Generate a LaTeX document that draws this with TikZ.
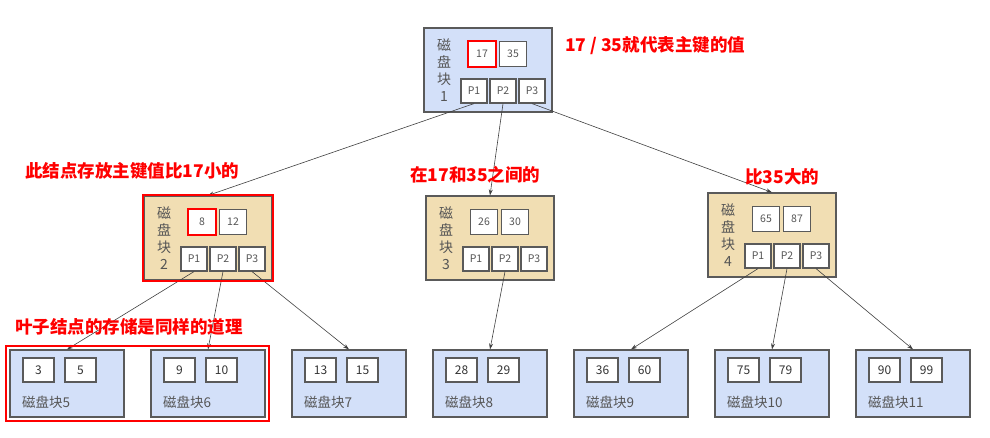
\documentclass[tikz,border=0pt]{standalone}
\usepackage{fontspec}
\setmainfont{Noto Sans CJK SC}
\usetikzlibrary{arrows.meta,fit}
\definecolor{blu}{HTML}{D3E0F9}
\definecolor{tan}{HTML}{F1DEB3}
\definecolor{edge}{HTML}{5A5A5A}
\definecolor{txt}{HTML}{555555}
\definecolor{mark}{HTML}{FF0000}
\tikzset{
  disk/.style={draw=edge,line width=1.2pt,minimum width=128pt,minimum height=84pt,inner sep=0pt},
  leaf/.style={draw=edge,line width=1.2pt,fill=blu,minimum width=114pt,minimum height=67pt,inner sep=0pt},
  key/.style={draw=edge,line width=1.2pt,fill=white,minimum width=27pt,minimum height=25pt,inner sep=0pt,text=txt,font=\fontsize{10.5}{12}\selectfont},
  lkey/.style={key,minimum width=31pt,minimum height=24pt,text=black!80,font=\fontsize{12}{14}\selectfont},
  ptr/.style={key,minimum width=26pt,minimum height=24pt},
  vtext/.style={align=center,text=txt,inner sep=0pt,font=\fontsize{14}{17}\selectfont},
  ltext/.style={anchor=west,text=txt,inner sep=0pt,font=\fontsize{13.5}{15}\selectfont},
  note/.style={anchor=west,text=mark,inner sep=0pt,font=\bfseries\fontsize{17.5}{20}\selectfont},
  hl/.style={draw=mark,line width=2pt,inner sep=0pt},
  link/.style={->,draw=black!75,semithick}
}
\begin{document}
\begin{tikzpicture}[x=1pt,y=-1pt,>={Stealth[length=6pt,width=4pt]}]
\useasboundingbox (0,0) rectangle (990,438);
\foreach \n/\x/\y/\c/\a/\b in {1/488/70/blu/17/35,2/208/238/tan/8/12,3/490/238/tan/26/30,4/772/235/tan/65/87}{
  \node[disk,fill=\c] (b\n) at (\x,\y) {};
  \node[key] (b\n k1) at (\x-6,\y-16) {\a};
  \node[key] (b\n k2) at (\x+25,\y-16) {\b};
  \foreach \p/\d in {1/-14,2/15,3/44}
    \node[ptr] (b\n p\p) at (\x+\d,\y+21) {P\p};
  \node[vtext] (b\n t) at (\x-44,\y) {磁\\盘\\块\\\n};
}
\foreach \n/\a/\b [count=\i from 0,evaluate=\i as \x using 67+141*\i] in {5/3/5,6/9/10,7/13/15,8/28/29,9/36/60,10/75/79,11/90/99}{
  \node[leaf] (l\n) at (\x,383.5) {};
  \node[lkey] (l\n k1) at (\x-28.5,370) {\a};
  \node[lkey] (l\n k2) at (\x+13.5,370) {\b};
  \node[ltext] (l\n t) at (\x-45,402) {磁盘块\n};
}
\foreach \a/\b in {b1p1/b2,b1p2/b3,b1p3/b4,b2p1/l5,b2p2/l6,b2p3/l7,b3p2/l8,b4p1/l9,b4p2/l10,b4p3/l11}
  \draw[link] (\a.south) -- (\b.north);
\node[hl,fit=(b1k1)] (h1) {};
\node[hl,fit=(b2k1)] (h2) {};
\node[hl,fit=(b2)] (h3) {};
\node[hl,fit=(l5)(l6),inner sep=3pt] (h4) {};
\node[note] (n1) at (565,46) {17 / 35就代表主键的值};
\node[note] (n2) at (25,171) {此结点存放主键值比17小的};
\node[note] (n3) at (410,175) {在17和35之间的};
\node[note] (n4) at (745,177) {比35大的};
\node[note] (n5) at (15,327) {叶子结点的存储是同样的道理};
\end{tikzpicture}
\end{document}
